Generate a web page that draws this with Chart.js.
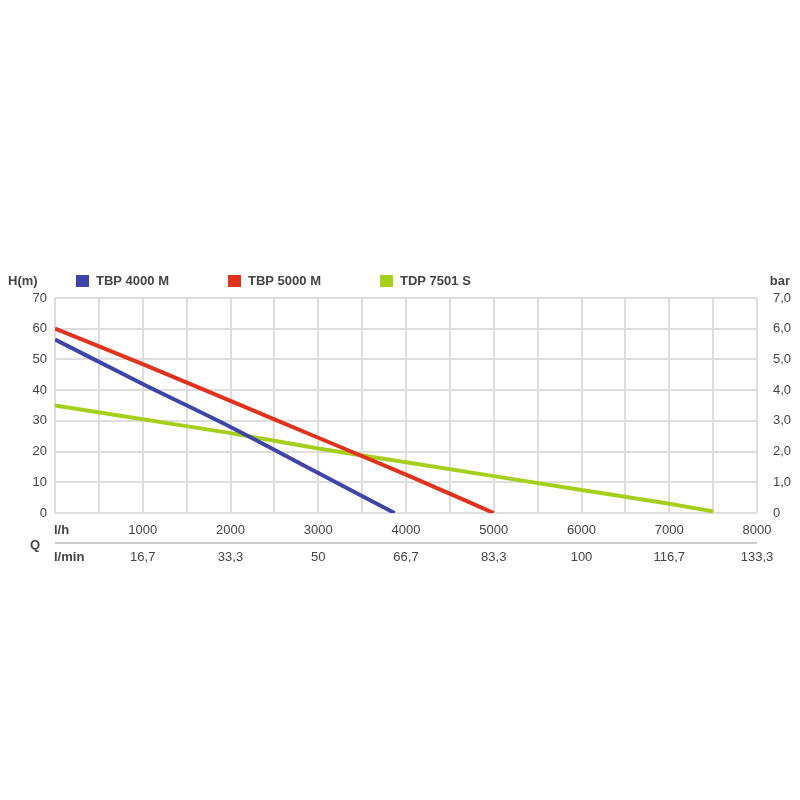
<!DOCTYPE html>
<html>
<head>
<script src="https://cdn.jsdelivr.net/npm/chart.js@4"></script>
<style>body{margin:0;background:#fff}#wrap{width:800px;height:800px}</style>
</head>
<body>
<div id="wrap"><canvas id="c" width="800" height="800"></canvas></div>
<script>
const flowLh = [0, 1000, 2000, 3000, 4000, 5000, 6000, 7000, 8000];
const flowLmin = ['', '16,7', '33,3', '50', '66,7', '83,3', '100', '116,7', '133,3'];
const barLabels = ['0', '1,0', '2,0', '3,0', '4,0', '5,0', '6,0', '7,0'];
const tbp4000 = [[0, 56.5], [1000, 42], [2000, 28], [3000, 13], [3870, 0]];
const tbp5000 = [[0, 60], [1000, 48.5], [2000, 36.5], [3000, 24.5], [4000, 12.5], [5000, 0]];
const tdp7501 = [[0, 35], [1000, 30.5], [2000, 26], [3000, 21], [4000, 16.5], [5000, 12], [6000, 7.5], [7000, 3], [7500, 0.5]];
const seriesNames = ['TBP 4000 M', 'TBP 5000 M', 'TDP 7501 S'];
const colors = ['#3f45a8', '#e0321c', '#a6cf1c'];

const pts = a => a.map(p => ({x: p[0], y: p[1]}));
const font = {family: 'Liberation Sans, Arial', size: 13};

const extras = {
    id: 'extras',
    afterDraw(chart) {
        const ctx = chart.ctx, x = chart.scales.x, a = chart.chartArea;
        ctx.save();
        ctx.fillStyle = '#444';
        ctx.font = '13px Liberation Sans, Arial';
        ctx.textBaseline = 'middle';
        ctx.textAlign = 'center';
        flowLmin.forEach((t, i) => { if (t) ctx.fillText(t, x.getPixelForValue(flowLh[i]), 557); });
        ctx.font = 'bold 13px Liberation Sans, Arial';
        ctx.textAlign = 'left';
        ctx.fillText('l/h', 54, 530);
        ctx.fillText('l/min', 54, 557);
        ctx.fillText('Q', 30, 545);
        ctx.fillText('H(m)', 8, 281);
        ctx.textAlign = 'right';
        ctx.fillText('bar', 790, 281);
        ctx.strokeStyle = '#ccc';
        ctx.lineWidth = 2;
        ctx.beginPath(); ctx.moveTo(a.left, 543); ctx.lineTo(a.right, 543); ctx.stroke();
        ctx.textAlign = 'left';
        seriesNames.forEach((n, i) => {
            const lx = 76 + i * 152;
            ctx.fillStyle = colors[i];
            ctx.fillRect(lx, 275, 13, 12);
            ctx.fillStyle = '#444';
            ctx.fillText(n, lx + 20, 281);
        });
        ctx.restore();
    }
};

new Chart(document.getElementById('c'), {
    type: 'line',
    data: {
        datasets: [tbp4000, tbp5000, tdp7501].map((d, i) => ({
            label: seriesNames[i], data: pts(d), borderColor: colors[i],
            borderWidth: 4, pointRadius: 0, tension: 0.3, cubicInterpolationMode: 'monotone'
        }))
    },
    options: {
        responsive: false, animation: false,
        layout: {padding: {top: 298}},
        plugins: {legend: {display: false}, tooltip: {enabled: false}},
        scales: {
            x: {
                type: 'linear', min: 0, max: 8000,
                afterBuildTicks: s => { s.ticks = []; for (let v = 0; v <= 8000; v += 500) s.ticks.push({value: v}); },
                afterFit: s => { s.height = 287; },
                grid: {color: '#ddd', lineWidth: 2, drawTicks: false},
                border: {display: false},
                ticks: {padding: 10, color: '#444', font, maxRotation: 0, autoSkip: false,
                    callback: v => (v > 0 && v % 1000 === 0) ? String(v) : ''}
            },
            y: {
                min: 0, max: 70,
                ticks: {stepSize: 10, color: '#444', font, padding: 8},
                afterFit: s => { s.width = 55; },
                grid: {color: '#ddd', lineWidth: 2, drawTicks: false},
                border: {display: false}
            },
            y2: {
                position: 'right', min: 0, max: 70,
                ticks: {stepSize: 10, color: '#444', font, padding: 8, callback: (v, i) => barLabels[i]},
                afterFit: s => { s.width = 43; },
                grid: {display: false},
                border: {display: false}
            }
        }
    },
    plugins: [extras]
});
</script>
</body>
</html>
